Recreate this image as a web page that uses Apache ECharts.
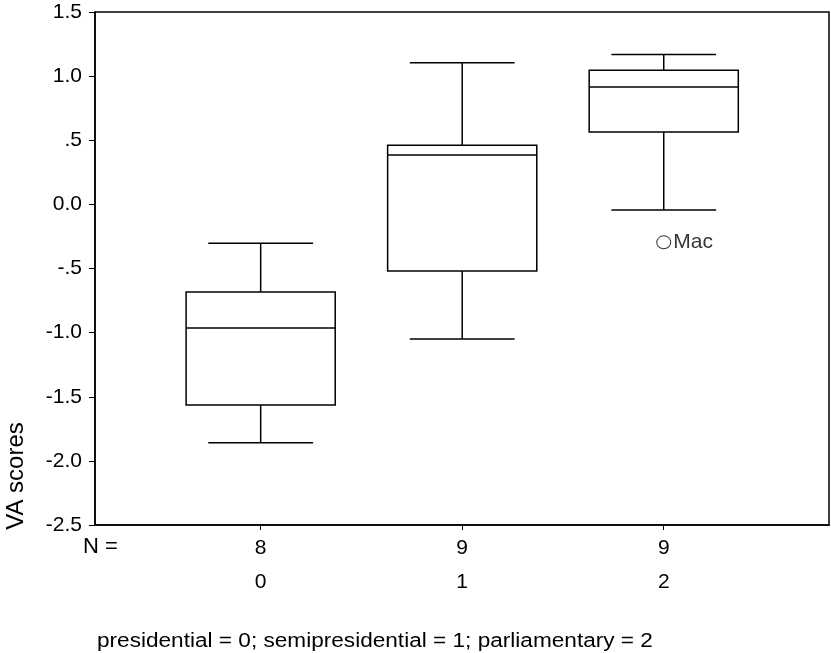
<!DOCTYPE html>
<html><head><meta charset="utf-8">
<script src="https://cdn.jsdelivr.net/npm/echarts@6/dist/echarts.min.js"></script>
<style>html,body{margin:0;padding:0;background:#fff}#c{width:831px;height:653px}</style>
</head><body><div id="c"></div>
<script>
const categories = ['0', '1', '2'];
const counts = ['8', '9', '9'];
const whiskerLow  = [-1.858, -1.050, -0.044];
const q1          = [-1.564, -0.519,  0.565];
const median      = [-0.964,  0.385,  0.915];
const q3          = [-0.683,  0.461,  1.046];
const whiskerHigh = [-0.303,  1.105,  1.168];
const outlierX = [2];
const outlierY = [-0.296];
const outlierNames = ['Mac'];
const yTickValues = [-2.5, -2.0, -1.5, -1.0, -0.5, 0.0, 0.5, 1.0, 1.5];
const yTickLabels = ['-2.5', '-2.0', '-1.5', '-1.0', '-.5', '0.0', '.5', '1.0', '1.5'];
const yAxisTitle = 'VA scores';
const nLabel = 'N =';
const caption = 'presidential = 0; semipresidential = 1; parliamentary = 2';

const FONT = '"Liberation Sans", Arial, Helvetica, sans-serif';
const boxWidth = 0.74, capWidth = 0.52;

const boxData = categories.map((c, i) => [Number(c), whiskerLow[i], q1[i], median[i], q3[i], whiskerHigh[i]]);
const outData = outlierX.map((x, i) => ({ value: [x, outlierY[i]], name: outlierNames[i] }));

const chart = echarts.init(document.getElementById('c'), null, { renderer: 'canvas' });
const lineStyle = { stroke: '#000', lineWidth: 1.5, fill: null };

chart.setOption({
  animation: false,
  backgroundColor: '#fff',
  grid: { left: 95, right: 2, top: 12, bottom: 128, show: true, borderColor: '#000', borderWidth: 1.5 },
  xAxis: {
    type: 'value', min: -0.822, max: 2.82,
    splitLine: { show: false },
    axisLine: { show: true, onZero: false, lineStyle: { color: '#000', width: 1.5 } },
    axisTick: { show: true, length: 5, customValues: categories.map(Number), lineStyle: { color: '#000' } },
    axisLabel: {
      customValues: categories.map(Number), margin: 6,
      formatter: v => '{n|' + counts[Math.round(v)] + '}\n{c|' + categories[Math.round(v)] + '}',
      rich: {
        n: { fontSize: 21, lineHeight: 34, color: '#000', fontFamily: FONT },
        c: { fontSize: 21, lineHeight: 34, color: '#000', fontFamily: FONT }
      }
    }
  },
  yAxis: {
    type: 'value', min: -2.5, max: 1.5, interval: 0.5,
    splitLine: { show: false },
    axisLine: { show: true, onZero: false, lineStyle: { color: '#000', width: 1.5 } },
    axisTick: { show: true, length: 6, lineStyle: { color: '#000' } },
    axisLabel: {
      margin: 13, fontSize: 21, color: '#000', fontFamily: FONT,
      formatter: v => { const i = yTickValues.findIndex(t => Math.abs(t - v) < 1e-9); return i >= 0 ? yTickLabels[i] : ''; }
    }
  },
  graphic: [
    { type: 'text', x: 16, y: 476, rotation: Math.PI / 2,
      style: { text: yAxisTitle, fontSize: 24, fontFamily: FONT, fill: '#000', align: 'center', verticalAlign: 'middle' } },
    { type: 'text', x: 83, y: 547,
      style: { text: nLabel, fontSize: 22, fontFamily: FONT, fill: '#000', align: 'left', verticalAlign: 'middle' } },
    { type: 'text', x: 97, y: 641, scaleX: 1.13,
      style: { text: caption, fontSize: 20, fontFamily: FONT, fill: '#000', align: 'left', verticalAlign: 'middle' } }
  ],
  series: [
    {
      type: 'custom',
      data: boxData,
      encode: { x: 0, y: [1, 2, 3, 4, 5] },
      renderItem: (params, api) => {
        const x = api.value(0);
        const bw = api.size([boxWidth, 0])[0];
        const cw = api.size([capWidth, 0])[0];
        const pLo = api.coord([x, api.value(1)]);
        const pQ1 = api.coord([x, api.value(2)]);
        const pMed = api.coord([x, api.value(3)]);
        const pQ3 = api.coord([x, api.value(4)]);
        const pHi = api.coord([x, api.value(5)]);
        const cx = pMed[0];
        const ln = (x1, y1, x2, y2) => ({ type: 'line', shape: { x1, y1, x2, y2 }, style: lineStyle });
        return {
          type: 'group',
          children: [
            { type: 'rect', shape: { x: cx - bw / 2, y: pQ3[1], width: bw, height: pQ1[1] - pQ3[1] }, style: lineStyle },
            ln(cx - bw / 2, pMed[1], cx + bw / 2, pMed[1]),
            ln(cx, pQ3[1], cx, pHi[1]),
            ln(cx - cw / 2, pHi[1], cx + cw / 2, pHi[1]),
            ln(cx, pQ1[1], cx, pLo[1]),
            ln(cx - cw / 2, pLo[1], cx + cw / 2, pLo[1])
          ]
        };
      }
    },
    {
      type: 'scatter',
      data: outData,
      symbol: 'circle', symbolSize: [14, 13],
      itemStyle: { color: '#fff', borderColor: '#000', borderWidth: 1 },
      label: { show: true, position: 'right', distance: 2, formatter: p => p.name, fontSize: 21, color: '#000', fontFamily: FONT }
    }
  ]
});
</script></body></html>
